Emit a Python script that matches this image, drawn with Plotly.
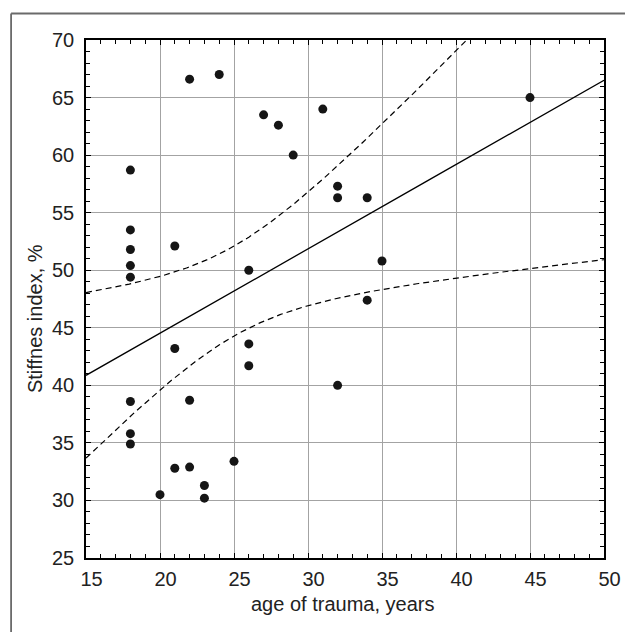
import numpy as np
import plotly.graph_objects as go

# Data
age_of_trauma = [18, 18, 18, 18, 18, 18, 18, 18,
                 20,
                 21, 21, 21,
                 22, 22, 22,
                 23, 23,
                 24, 25,
                 26, 26, 26,
                 27, 28, 29, 31,
                 32, 32, 32,
                 34, 34,
                 35, 45]
stiffness_index = [58.7, 53.5, 51.8, 50.4, 49.4, 38.6, 35.8, 34.9,
                   30.5,
                   52.1, 43.2, 32.8,
                   66.6, 38.7, 32.9,
                   31.3, 30.2,
                   67.0, 33.4,
                   50.0, 43.6, 41.7,
                   63.5, 62.6, 60.0, 64.0,
                   57.3, 56.3, 40.0,
                   56.3, 47.4,
                   50.8, 65.0]

x_ticks = [15, 20, 25, 30, 35, 40, 45, 50]
y_ticks = [25, 30, 35, 40, 45, 50, 55, 60, 65, 70]
x_title = "age of trauma, years"
y_title = "Stiffnes index, %"

# Linear regression with 95% confidence band of the mean
x = np.array(age_of_trauma, dtype=float)
y = np.array(stiffness_index, dtype=float)
n = len(x)
slope, intercept = np.polyfit(x, y, 1)
resid = y - (slope * x + intercept)
s = np.sqrt(np.sum(resid ** 2) / (n - 2))
sxx = np.sum((x - x.mean()) ** 2)
t_crit = 2.0395  # t(0.975, df=31)
xf = np.linspace(15, 50, 300)
yf = slope * xf + intercept
half = t_crit * s * np.sqrt(1.0 / n + (xf - x.mean()) ** 2 / sxx)

fig = go.Figure()
fig.add_trace(go.Scatter(x=xf, y=yf + half, mode="lines",
                         line=dict(color="black", width=1.2, dash="6px,4px"),
                         hoverinfo="skip", showlegend=False))
fig.add_trace(go.Scatter(x=xf, y=yf - half, mode="lines",
                         line=dict(color="black", width=1.2, dash="6px,4px"),
                         hoverinfo="skip", showlegend=False))
fig.add_trace(go.Scatter(x=xf, y=yf, mode="lines",
                         line=dict(color="black", width=1.3),
                         hoverinfo="skip", showlegend=False))
fig.add_trace(go.Scatter(x=age_of_trauma, y=stiffness_index, mode="markers",
                         marker=dict(color="#151515", size=9, symbol="circle"),
                         cliponaxis=False, showlegend=False))

font_family = "Liberation Sans, Arial, sans-serif"
OFF = 8  # page body margin
W, H = 633 - OFF, 632 - OFF
# target plot area in window pixels: left 86.5, right 615, top 40, bottom 558.5
ml, mr, mt, mb = 86 - OFF, 633 - 615, 40 - OFF, 632 - 558
pw, ph = W - ml - mr, H - mt - mb

def px_to_paper_x(px):
    return (px - OFF - ml) / pw

def px_to_paper_y(py):
    return (H - mb - (py - OFF)) / ph

axis_common = dict(
    showline=True, linecolor="black", linewidth=1.5, mirror="ticks",
    ticks="inside", ticklen=5, tickwidth=1, tickcolor="black",
    showgrid=True, gridcolor="#a3a3a3", gridwidth=1.2,
    zeroline=False,
    tickfont=dict(family=font_family, size=20, color="#222"),
    minor=dict(ticks="inside", ticklen=4, tickwidth=1, tickcolor="black",
               dtick=1, showgrid=False),
)

fig.update_xaxes(range=[15, 50], tickvals=x_ticks,
                 ticktext=["\u00a0\u00a0" + str(v) for v in x_ticks],
                 ticklabelstandoff=2, **axis_common)
fig.update_yaxes(range=[25, 70], tickvals=y_ticks, ticktext=[str(v) for v in y_ticks],
                 ticklabelstandoff=6, **axis_common)

fig.update_layout(
    width=W, height=H,
    margin=dict(l=ml, r=mr, t=mt, b=mb),
    paper_bgcolor="white", plot_bgcolor="white",
    showlegend=False,
    font=dict(family=font_family, color="#222"),
    shapes=[
        dict(type="line", xref="paper", yref="paper",
             x0=px_to_paper_x(9.5), x1=px_to_paper_x(700),
             y0=px_to_paper_y(13.5), y1=px_to_paper_y(13.5),
             line=dict(color="#6a6a6a", width=1.8)),
        dict(type="line", xref="paper", yref="paper",
             x0=px_to_paper_x(9.5), x1=px_to_paper_x(9.5),
             y0=px_to_paper_y(13.5), y1=px_to_paper_y(700),
             line=dict(color="#6a6a6a", width=1.8)),
    ],
    annotations=[
        dict(text=x_title, xref="paper", yref="paper",
             x=px_to_paper_x(348), y=px_to_paper_y(604),
             xanchor="center", yanchor="middle", showarrow=False,
             font=dict(family=font_family, size=20, color="#222")),
        dict(text=y_title, xref="paper", yref="paper",
             x=px_to_paper_x(34), y=px_to_paper_y(319),
             xanchor="center", yanchor="middle", showarrow=False, textangle=-90,
             font=dict(family=font_family, size=20, color="#222")),
    ],
)

fig.write_html("out.html")
